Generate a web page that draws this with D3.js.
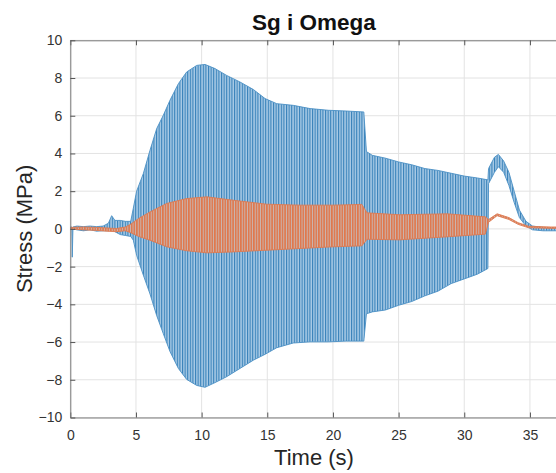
<!DOCTYPE html>
<html>
<head>
<meta charset="utf-8">
<script src="https://cdn.jsdelivr.net/npm/d3@7"></script>
<style>
  html, body { margin: 0; padding: 0; background: #fff; }
  svg { display: block; font-family: "Liberation Sans", Arial, sans-serif; }
</style>
</head>
<body>
<svg id="chart" width="556" height="473"></svg>
<script>
// ---- Data (envelopes of the oscillating signals) ----
const chartTitle = "Sg i Omega";
const xLabel = "Time (s)";
const yLabel = "Stress (MPa)";
const xTicks = [0, 5, 10, 15, 20, 25, 30, 35];
const yTicks = [-10, -8, -6, -4, -2, 0, 2, 4, 6, 8, 10];

// Sg (blue): time, upper envelope, lower envelope
const sgTime  = [0, 0.12, 0.15, 0.2, 0.5, 1.0, 1.5, 2.0, 2.5, 2.9, 3.15, 3.4, 3.8, 4.2, 4.6, 4.8, 5.05, 5.56, 6.07, 6.58, 7.08, 7.59, 8.23, 8.86, 9.63, 10.26, 11.02, 11.9, 12.92, 13.94, 14.83, 15.72, 16.98, 18.26, 19.65, 21.0, 22.35, 22.55, 23.0, 24.0, 25.0, 26.0, 27.0, 28.0, 29.0, 30.0, 31.0, 31.8, 31.85, 32.3, 32.6, 33.0, 33.4, 33.8, 34.2, 34.7, 35.2, 36.0, 37.1];
const sgUpper = [0.10, 0.10, 0.05, 0.10, 0.15, 0.12, 0.15, 0.12, 0.15, 0.30, 0.70, 0.45, 0.45, 0.40, 0.40, 1.10, 2.00, 2.93, 4.17, 5.32, 6.02, 6.82, 7.70, 8.32, 8.67, 8.72, 8.50, 8.14, 7.79, 7.39, 6.91, 6.64, 6.55, 6.38, 6.29, 6.25, 6.20, 4.10, 3.90, 3.75, 3.55, 3.40, 3.20, 3.10, 2.95, 2.80, 2.70, 2.60, 3.20, 3.80, 3.95, 3.60, 3.00, 2.00, 1.00, 0.40, 0.15, 0.08, 0.05];
const sgLower = [0.00, 0.00, -1.50, 0.00, -0.05, -0.10, -0.05, -0.12, -0.10, -0.10, 0.00, -0.15, -0.30, -0.35, -0.40, -0.60, -1.40, -2.45, -3.45, -4.60, -5.55, -6.50, -7.40, -7.98, -8.30, -8.40, -8.15, -7.84, -7.40, -6.96, -6.65, -6.30, -6.05, -5.99, -5.99, -5.95, -5.95, -4.50, -4.40, -4.30, -4.05, -3.85, -3.55, -3.30, -2.90, -2.65, -2.40, -2.10, 2.40, 3.00, 3.30, 3.00, 2.30, 1.40, 0.60, 0.15, -0.05, -0.10, -0.10];

// Omega (orange): time, upper envelope, lower envelope
const omTime  = [0, 1.0, 2.0, 2.8, 3.5, 4.2, 4.6, 5.2, 6.07, 7.34, 8.86, 10.4, 12.4, 14.96, 17.5, 20.0, 22.2, 22.6, 25.1, 28.7, 31.6, 31.85, 32.5, 33.4, 34.1, 34.9, 36.6, 37.1];
const omUpper = [0.08, 0.10, 0.08, 0.05, 0.02, 0.10, 0.25, 0.55, 0.90, 1.35, 1.61, 1.70, 1.52, 1.31, 1.26, 1.26, 1.30, 0.85, 0.75, 0.80, 0.64, 0.50, 0.80, 0.60, 0.33, 0.14, 0.10, 0.10];
const omLower = [0.00, -0.05, -0.08, -0.12, -0.15, -0.10, -0.20, -0.40, -0.60, -0.95, -1.16, -1.27, -1.22, -1.13, -1.04, -0.95, -0.90, -0.55, -0.58, -0.42, -0.28, 0.35, 0.70, 0.50, 0.24, 0.06, 0.03, 0.03];

// ---- Drawing ----
const svg = d3.select("#chart");
const x = d3.scaleLinear().domain([0, 37.1]).range([70.3, 557.5]);
const y = d3.scaleLinear().domain([-10, 10]).range([417.5, 40.3]);
const [x0, x1] = x.range();
const [yb, yt] = y.range();

const defs = svg.append("defs");
defs.append("clipPath").attr("id", "plotclip")
  .append("rect").attr("x", x0).attr("y", yt).attr("width", x1 - x0).attr("height", yb - yt);

// stripe patterns imitating the dense oscillation
const pb = defs.append("pattern").attr("id", "blueStripes")
  .attr("patternUnits", "userSpaceOnUse").attr("width", 2.6).attr("height", 10);
pb.append("rect").attr("width", 2.6).attr("height", 10).attr("fill", "#a9cbe6");
pb.append("rect").attr("width", 1.1).attr("height", 10).attr("fill", "#3580b9");

const po = defs.append("pattern").attr("id", "orangeStripes")
  .attr("patternUnits", "userSpaceOnUse").attr("width", 2.6).attr("height", 10);
po.append("rect").attr("width", 2.6).attr("height", 10).attr("fill", "#c9b8b4");
po.append("rect").attr("x", 0.9).attr("width", 1.6).attr("height", 10).attr("fill", "#e0764a");

// grid
const grid = svg.append("g");
grid.selectAll(".gx").data(xTicks).join("line")
  .attr("x1", d => x(d)).attr("x2", d => x(d)).attr("y1", yt).attr("y2", yb)
  .attr("stroke", "#e3e3e3").attr("stroke-width", 1);
grid.selectAll(".gy").data(yTicks).join("line")
  .attr("x1", x0).attr("x2", x1).attr("y1", d => y(d)).attr("y2", d => y(d))
  .attr("stroke", "#e3e3e3").attr("stroke-width", 1);

const plot = svg.append("g").attr("clip-path", "url(#plotclip)");

const sgData = sgTime.map((t, i) => ({ t, u: sgUpper[i], l: sgLower[i] }));
const omData = omTime.map((t, i) => ({ t, u: omUpper[i], l: omLower[i] }));

const area = d3.area().x(d => x(d.t)).y0(d => y(d.l)).y1(d => y(d.u)).curve(d3.curveLinear);

plot.append("path").datum(sgData).attr("d", area)
  .attr("fill", "url(#blueStripes)").attr("stroke", "#4a8fc4").attr("stroke-width", 0.9);
plot.append("path").datum(omData).attr("d", area)
  .attr("fill", "url(#orangeStripes)").attr("stroke", "#e07a50").attr("stroke-width", 0.9);

// axes
const axisColor = "#7a7a7a";
const gx = svg.append("g").attr("transform", `translate(0,${yb})`)
  .call(d3.axisBottom(x).tickValues(xTicks).tickSizeInner(-5).tickSizeOuter(0).tickPadding(13));
const gxTop = svg.append("g").attr("transform", `translate(0,${yt})`)
  .call(d3.axisTop(x).tickValues(xTicks).tickSizeInner(-5).tickSizeOuter(0).tickFormat(""));
const gy = svg.append("g").attr("transform", `translate(${x0},0)`)
  .call(d3.axisLeft(y).tickValues(yTicks).tickSizeInner(-5).tickSizeOuter(0).tickPadding(8));
[gx, gxTop, gy].forEach(g => {
  g.select(".domain").attr("stroke", axisColor);
  g.selectAll(".tick line").attr("stroke", "#555");
  g.selectAll(".tick text").attr("fill", "#333").style("font-size", "14px")
    .style("font-family", '"Liberation Sans", Arial, sans-serif');
});

// title and labels
svg.append("text").attr("x", 314).attr("y", 30).attr("text-anchor", "middle")
  .style("font-size", "22.5px").style("font-weight", "bold").attr("fill", "#111").text(chartTitle);
svg.append("text").attr("x", 314).attr("y", 465).attr("text-anchor", "middle")
  .style("font-size", "22px").attr("fill", "#262626").text(xLabel);
svg.append("text").attr("transform", `translate(32,${(yt + yb) / 2}) rotate(-90)`)
  .attr("text-anchor", "middle").style("font-size", "22px").attr("fill", "#262626").text(yLabel);
</script>
</body>
</html>
